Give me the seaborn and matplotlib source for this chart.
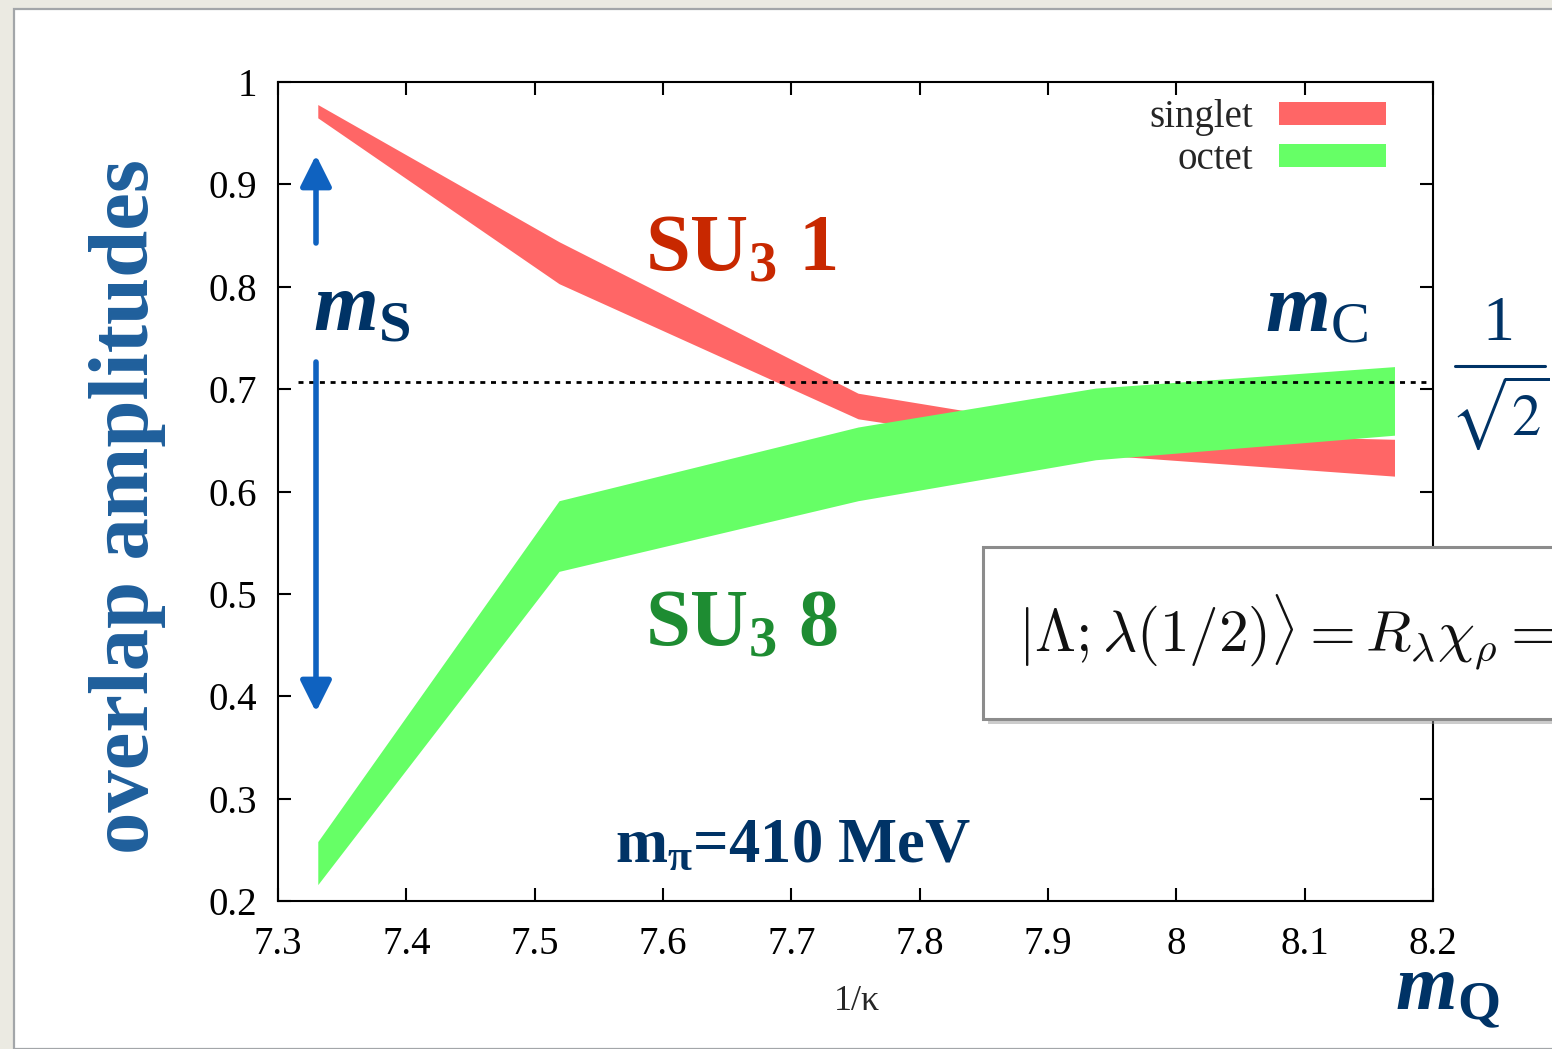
import numpy as np
import pandas as pd
import matplotlib
matplotlib.use("Agg")
import matplotlib.pyplot as plt
from matplotlib.patches import Rectangle, Patch
from matplotlib.lines import Line2D
import seaborn as sns

# ---- data -------------------------------------------------------------
inv_kappa = [7.331, 7.519, 7.752, 7.937, 8.170]

singlet_low = [0.965, 0.803, 0.671, 0.636, 0.615]
singlet_high = [0.978, 0.844, 0.696, 0.658, 0.651]

octet_low = [0.216, 0.522, 0.591, 0.631, 0.655]
octet_high = [0.258, 0.591, 0.663, 0.701, 0.722]

series_names = ["singlet", "octet"]
band_colors = ["#ff6666", "#66ff66"]

x_ticks = [7.3, 7.4, 7.5, 7.6, 7.7, 7.8, 7.9, 8.0, 8.1, 8.2]
x_tick_labels = ["7.3", "7.4", "7.5", "7.6", "7.7", "7.8", "7.9", "8", "8.1", "8.2"]
y_ticks = [0.2, 0.3, 0.4, 0.5, 0.6, 0.7, 0.8, 0.9, 1.0]
y_tick_labels = ["0.2", "0.3", "0.4", "0.5", "0.6", "0.7", "0.8", "0.9", "1"]

equal_mixing = 1 / np.sqrt(2)

# ---- long-form table: lower and upper edge of each band -----------------
rows = []
for name, lows, highs in [("singlet", singlet_low, singlet_high),
                          ("octet", octet_low, octet_high)]:
    for x, lo, hi in zip(inv_kappa, lows, highs):
        rows.append({"inv_kappa": x, "amplitude": lo, "state": name})
        rows.append({"inv_kappa": x, "amplitude": hi, "state": name})
df = pd.DataFrame(rows)

# ---- style --------------------------------------------------------------
sns.set_style("ticks")
plt.rcParams["font.family"] = ["Liberation Serif", "DejaVu Serif"]
plt.rcParams["mathtext.fontset"] = "custom"
plt.rcParams["mathtext.rm"] = "Liberation Serif"
plt.rcParams["mathtext.it"] = "Liberation Serif:italic"
plt.rcParams["mathtext.bf"] = "Liberation Serif:bold"
plt.rcParams["mathtext.bfit"] = "Liberation Serif:italic:bold"

W, H = 1552, 1049
fig = plt.figure(figsize=(W / 100, H / 100), dpi=100)
fig.patch.set_facecolor("#ebeae2")


def fx(px):
    return px / W


def fy(py):
    return 1 - py / H


# slide sheet
fig.add_artist(Rectangle((fx(14), 0), 1 - fx(14) + 0.01, fy(9), transform=fig.transFigure,
                         facecolor="white", edgecolor="#a3a6a9", lw=1.6, zorder=-2))

ax = fig.add_axes([fx(278), fy(901), 1155 / W, 819 / H])
ax.set_facecolor("white")

# min–max bands for each state
sns.lineplot(data=df, x="inv_kappa", y="amplitude", hue="state",
             hue_order=series_names, palette=band_colors,
             estimator="mean", errorbar=lambda v: (v.min(), v.max()),
             err_style="band", err_kws={"alpha": 1, "linewidth": 0},
             linewidth=0, legend=False, ax=ax)

# 1/sqrt(2) reference level
ax.plot([7.3156, 8.1956], [equal_mixing, equal_mixing], color="black", lw=2.0,
        dashes=(1.8, 2.05), zorder=3)

ax.set_xlim(7.3, 8.2)
ax.set_ylim(0.2, 1.0)
ax.set_xticks(x_ticks)
ax.set_xticklabels(x_tick_labels)
ax.set_yticks(y_ticks)
ax.set_yticklabels(y_tick_labels)
ax.tick_params(axis="both", direction="in", length=9.5, width=1.5, top=True, right=True,
               labelsize=28, colors="black")
ax.tick_params(axis="y", pad=15)
ax.tick_params(axis="x", pad=18)
for sp in ax.spines.values():
    sp.set_visible(True)
    sp.set_linewidth(1.5)
    sp.set_color("black")

ax.set_ylabel("")
ax.set_xlabel("1/κ", fontsize=26)
ax.xaxis.set_label_coords(0.501, -(985 - 901) / 819)

handles = [Patch(facecolor=c, edgecolor="none") for c in band_colors]
ax.legend(handles=handles, labels=series_names, loc="upper right",
          bbox_to_anchor=((1386 - 278) / 1155, 1 - (99 - 82) / 819),
          markerfirst=False, frameon=False, fontsize=28,
          handlelength=2.75, handleheight=0.52, handletextpad=0.68,
          labelspacing=0.14, borderpad=0, borderaxespad=0)

# ---- slide annotations ----------------------------------------------------
navy = "#003366"
fig.text(fx(128), fy(507), "overlap amplitudes", rotation=90, ha="center", va="center",
         fontsize=61, weight="bold", color="#1f5f9c")
fig.text(fx(645), fy(270), r"SU$_\mathbf{3}$ 1", fontsize=58, weight="bold",
         color="#c82800", va="baseline")
fig.text(fx(645), fy(645), r"SU$_\mathbf{3}$ 8", fontsize=58, weight="bold",
         color="#1e8c32", va="baseline")
fig.text(fx(313), fy(330), r"$\mathbfit{m}_\mathbf{S}$", fontsize=60, color=navy,
         va="baseline")
fig.text(fx(1265), fy(330), r"$\mathbfit{m}_\mathrm{C}$", fontsize=60, color=navy,
         va="baseline")
fig.text(fx(1395), fy(1010), r"$\mathbfit{m}_\mathbf{Q}$", fontsize=57, color=navy,
         va="baseline")
fig.text(fx(615), fy(862), r"$\mathbf{m}_\mathbf{\pi}$=410 MeV", fontsize=45,
         weight="bold", color=navy, va="baseline")

# 1/sqrt(2) label beside the dashed level
fig.text(fx(1498), fy(340), "1", fontsize=46, ha="center", va="baseline", color=navy)
fig.add_artist(Line2D([fx(1455), fx(1545)], [fy(366), fy(366)], transform=fig.transFigure,
                      color=navy, lw=2.2))
fig.text(fx(1500), fy(373), r"$\sqrt{2}$", math_fontfamily="stix", fontsize=42,
         ha="center", va="top", color=navy)

# up / down arrows
arrow_kw = dict(arrowstyle="-|>,head_length=19,head_width=9.5", color="#0f62c0",
                lw=4, shrinkA=0, shrinkB=0, mutation_scale=1)
ax.annotate("", xy=(316, H - 155), xytext=(316, H - 243), xycoords="figure pixels",
            textcoords="figure pixels", arrowprops=arrow_kw, annotation_clip=False)
ax.annotate("", xy=(316, H - 712), xytext=(316, H - 362), xycoords="figure pixels",
            textcoords="figure pixels", arrowprops=arrow_kw, annotation_clip=False)

# formula box
fig.add_artist(Rectangle((fx(988), fy(724)), 0.5, (719 - 547) / H, transform=fig.transFigure,
                         facecolor="#9a9a9a", edgecolor="none", alpha=0.5, zorder=5))
fig.add_artist(Rectangle((fx(983), fy(719)), 0.5, (719 - 547) / H, transform=fig.transFigure,
                         facecolor="white", edgecolor="#8c8c8c", lw=2.2, zorder=6))
fig.text(fx(1018), fy(632), r"$|\Lambda;\lambda(1/2)\rangle = R_\lambda\chi_\rho =$",
         math_fontfamily="cm", fontsize=42.5, va="center", color="#111111", zorder=7)

fig.savefig("out.png", dpi=100, facecolor=fig.get_facecolor())
